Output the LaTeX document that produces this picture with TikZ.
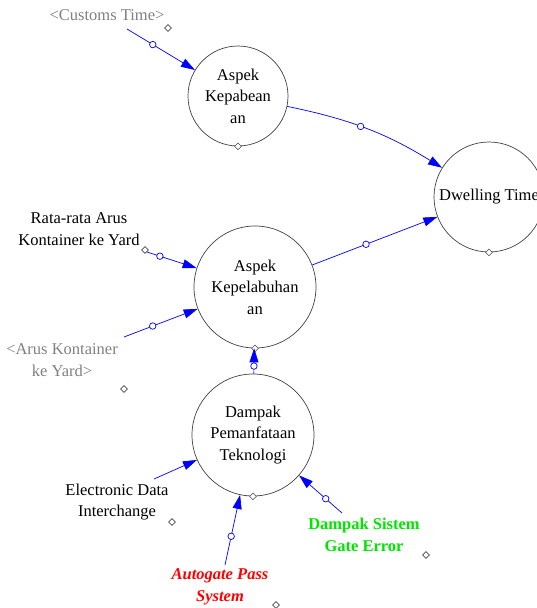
\documentclass[tikz,border=0pt]{standalone}
\usepackage{fontspec}
\setmainfont{Liberation Serif}
\usetikzlibrary{arrows.meta,shapes.geometric}
\definecolor{lnk}{RGB}{0,0,255}
\definecolor{ghost}{RGB}{128,128,128}
\definecolor{gre}{RGB}{0,230,0}
\tikzset{
  txt/.style={align=center,inner sep=0pt,font=\fontsize{16.5}{21.5}\selectfont},
  var/.style={circle,draw=black!75,line width=0.7pt,inner sep=0pt,txt},
  link/.style={draw=lnk,line width=0.7pt,-{Triangle[length=14pt,width=9pt]}},
  hub/.style={circle,draw=lnk,fill=white,line width=0.7pt,inner sep=0pt,minimum size=6.5pt},
  dia/.style={diamond,draw=black!70,fill=white,line width=0.6pt,inner sep=0pt,minimum width=7pt,minimum height=7pt},
}
\begin{document}
\begin{tikzpicture}[x=1pt,y=-1pt]
\useasboundingbox (0,0) rectangle (536,608);
% stocks / variables
\node[var,minimum size=100pt] (kep) at (238,96) {Aspek\\Kepabean\\an};
\node[var,minimum size=110pt] (dwell) at (489,197) {Dwelling Time};
\node[var,minimum size=122pt] (pel) at (255,287) {Aspek\\Kepelabuhan\\an};
\node[var,minimum size=122pt] (dmp) at (253,435) {Dampak\\Pemanfataan\\Teknologi};
% labels
\node[txt,text=ghost] (cust) at (107,15) {<Customs Time>};
\node[txt] (rata) at (79,229) {Rata-rata Arus\\Kontainer ke Yard};
\node[txt,text=ghost] (arus) at (62,360) {<Arus Kontainer\\ke Yard>};
\node[txt] (edi) at (117,502) {Electronic Data\\Interchange};
\node[txt,text=red,font=\fontsize{16.5}{21.5}\selectfont\bfseries\itshape] (auto) at (220,587) {Autogate Pass\\System};
\node[txt,text=gre,font=\fontsize{16.5}{21.5}\selectfont\bfseries] (gate) at (364,535) {Dampak Sistem\\Gate Error};
% small diamonds
\node[dia] (d1) at (168,28) {};
\node[dia] (d2) at (145,250) {};
\node[dia] (d3) at (124,389) {};
\node[dia] (d4) at (172,522) {};
\node[dia] (d5) at (276,605) {};
\node[dia] (d6) at (426,555) {};
\node[dia] (d7) at (kep.south) {};
\node[dia] (d8) at (dwell.south) {};
\node[dia] (d9) at (pel.south) {};
\node[dia] (d10) at (dmp.south) {};
% connector start points
\coordinate (cCust) at (127,29);
\coordinate (cRata) at (147,252);
\coordinate (cArus) at (124,337);
\coordinate (cEdi) at (154,479);
\coordinate (cAuto) at (225,565);
\coordinate (cGate) at (342,513);
% connectors
\draw[link] (cCust) -- node[pos=0.38,hub]{} (kep);
\draw[link] (kep) to[bend left=10] node[pos=0.45,hub]{} (dwell);
\draw[link] (pel) -- node[pos=0.43,hub]{} (dwell);
\draw[link] (cRata) -- node[pos=0.26,hub]{} (pel);
\draw[link] (cArus) -- node[pos=0.39,hub]{} (pel);
\draw[link] (dmp) -- node[pos=0.3,hub]{} (pel);
\draw[link] (cEdi) -- (dmp);
\draw[link] (cAuto) -- node[pos=0.41,hub]{} (dmp);
\draw[link] (cGate) -- node[pos=0.38,hub]{} (dmp);
\end{tikzpicture}
\end{document}
